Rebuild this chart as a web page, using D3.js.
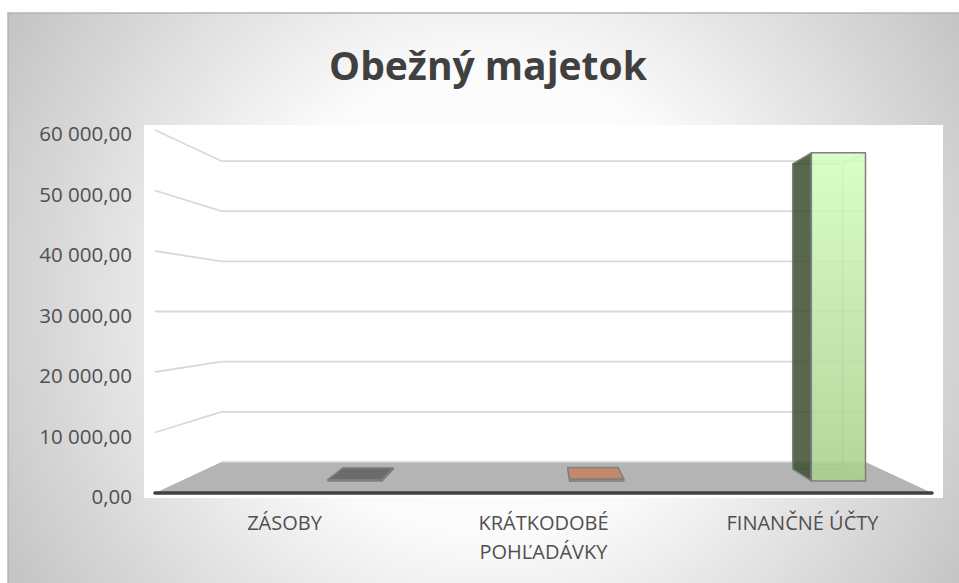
<!DOCTYPE html>
<html><head><meta charset="utf-8">
<script src="https://cdn.jsdelivr.net/npm/d3@7"></script>
<style>body{margin:0;background:#fff;overflow:hidden}svg{display:block}</style>
</head><body><svg id="c" width="959" height="583"></svg>
<script>
// ---- data ----
const chartTitle = "Obežný majetok";
const categories = ["ZÁSOBY", "KRÁTKODOBÉ POHĽADÁVKY", "FINANČNÉ ÚČTY"];
const values = [220, 300, 58100];
const yTicks = [0, 10000, 20000, 30000, 40000, 50000, 60000];

// ---- styles ----
const topColors = ["#6b6b6b", "#c28a6b", "#c6f0ab"];
const sideColors = ["#4a4a4a", "#8c5f48", "#3d4f32"];
const frontTop = ["#707070", "#c48c6d", "#d6fdbf"];
const frontBottom = ["#666666", "#bb8566", "#a9d08e"];

const svg = d3.select("#c");
const defs = svg.append("defs");
const bg = defs.append("radialGradient").attr("id","bg").attr("gradientUnits","userSpaceOnUse")
  .attr("cx",488).attr("cy",300).attr("r",560);
bg.append("stop").attr("offset",0).attr("stop-color","#ffffff");
bg.append("stop").attr("offset",0.42).attr("stop-color","#fbfbfb");
bg.append("stop").attr("offset",1).attr("stop-color","#c3c3c3");

svg.append("rect").attr("x",8).attr("y",13).attr("width",965).attr("height",585)
  .attr("fill","url(#bg)").attr("stroke","#b4b4b4").attr("stroke-width",1.5);

// plot area
svg.append("rect").attr("x",144).attr("y",125).attr("width",799).attr("height",373).attr("fill","#ffffff");

// ---- scales & perspective ----
const y = d3.scaleLinear().domain([0, 60000]).range([493, 130]);
const x = d3.scaleBand().domain(categories).range([155, 932]);
const persp = d3.scaleLinear().domain([0, 1]).range([1, 0.829]);
const cx = 543.5, cy = y(30000);
function P(X, v, d) { const s = persp(d); return [cx + (X - cx) * s, cy + (y(v) - cy) * s]; }
const line = d3.line();
const fmt = d3.formatLocale({decimal: ",", thousands: "\u00a0", grouping: [3], currency: ["", ""]}).format(",.2f");

const X0 = x.range()[0], X1 = x.range()[1];

// gridlines (back wall + side wall)
const grid = svg.append("g").attr("stroke","#d9d9d9").attr("stroke-width",1.8).attr("fill","none");
yTicks.forEach(t => {
  if (t > 0) {
    grid.append("path").attr("d", line([P(X0, t, 1), P(X1, t, 1)]));
    grid.append("path").attr("d", line([P(X0, t, 0), P(X0, t, 1)]));
  }
});

// floor
svg.append("path").attr("d", line([P(X0,0,0), P(X0,0,1), P(X1,0,1), P(X1,0,0)]) + "Z")
  .attr("fill","#b4b4b4");
svg.append("path").attr("d", line([P(X0,0,1), P(X1,0,1)])).attr("stroke","#d4d4d4").attr("stroke-width",1.5);
svg.append("path").attr("d", line([P(X0,0,0), P(X1,0,0)])).attr("stroke","#404040").attr("stroke-width",3.5)
  .attr("stroke-linecap","round");

// tick labels
svg.append("g").selectAll("text").data(yTicks).join("text")
  .attr("x", 132).attr("y", d => y(d) + 3).attr("text-anchor","end").attr("dominant-baseline","central")
  .attr("font-family","'Open Sans', sans-serif").attr("font-size",20.5).attr("fill","#505050")
  .text(d => fmt(d));

// bars
const barShift = 57, barFrac = 0.224, d0 = 0.39, d1 = 0.77;
categories.forEach((c, i) => {
  const v = values[i];
  const xc = x(c) + x.bandwidth() / 2 + barShift;
  const bw = x.bandwidth() * barFrac;
  const a = xc - bw / 2, b = xc + bw / 2;
  const g = svg.append("g");
  const gid = "fg" + i;
  const fg = defs.append("linearGradient").attr("id", gid).attr("x1",0).attr("y1",0).attr("x2",0).attr("y2",1);
  fg.append("stop").attr("offset",0).attr("stop-color", frontTop[i]);
  fg.append("stop").attr("offset",1).attr("stop-color", frontBottom[i]);
  // hidden back edges
  g.append("path").attr("d",
      line([P(a,0,d1), P(b,0,d1), P(b,v,d1), P(a,v,d1)]) + "Z" +
      line([P(b,0,d0), P(b,0,d1)]) + line([P(b,v,d0), P(b,v,d1)]))
    .attr("fill","none").attr("stroke","#808080").attr("stroke-width",1.2).attr("opacity",0.7);
  // left side
  if (a > cx) g.append("path").attr("d", line([P(a,0,d0), P(a,0,d1), P(a,v,d1), P(a,v,d0)]) + "Z")
    .attr("fill", sideColors[i]).attr("fill-opacity",0.86).attr("stroke","#7f7f7f").attr("stroke-width",1.5)
    .attr("stroke-linejoin","round");
  if (b < cx) g.append("path").attr("d", line([P(b,0,d0), P(b,0,d1), P(b,v,d1), P(b,v,d0)]) + "Z")
    .attr("fill", sideColors[i]).attr("fill-opacity",0.86).attr("stroke","#7f7f7f").attr("stroke-width",1.5)
    .attr("stroke-linejoin","round");
  // top
  if (y(v) > cy) g.append("path").attr("d", line([P(a,v,d0), P(b,v,d0), P(b,v,d1), P(a,v,d1)]) + "Z")
    .attr("fill", topColors[i]).attr("stroke","#808080").attr("stroke-width",1.5).attr("stroke-linejoin","round");
  // front
  g.append("path").attr("d", line([P(a,0,d0), P(b,0,d0), P(b,v,d0), P(a,v,d0)]) + "Z")
    .attr("fill", "url(#" + gid + ")").attr("fill-opacity",0.88).attr("stroke","#7f7f7f").attr("stroke-width",1.5)
    .attr("stroke-linejoin","round");
});

// category labels
const lab = svg.append("g").attr("font-family","'Open Sans', sans-serif").attr("font-size",20).attr("fill","#505050");
categories.forEach(c => {
  const t = lab.append("text").attr("x", x(c) + x.bandwidth()/2).attr("y", 530).attr("text-anchor","middle");
  const words = c.split(" ");
  let lines = [], cur = [];
  words.forEach(w => {
    const test = cur.concat([w]).join(" ");
    t.text(test);
    if (t.node().getComputedTextLength() > 200 && cur.length) { lines.push(cur.join(" ")); cur = [w]; }
    else cur.push(w);
  });
  lines.push(cur.join(" "));
  t.text(null);
  lines.forEach((l, k) => t.append("tspan").attr("x", x(c) + x.bandwidth()/2).attr("dy", k ? 29 : 0).text(l));
});

// title
svg.append("text").attr("x", 488).attr("y", 80).attr("text-anchor","middle")
  .attr("font-family","'Open Sans', sans-serif").attr("font-weight",700).attr("font-size",39)
  .attr("fill","#404040").text(chartTitle);
</script></body></html>
